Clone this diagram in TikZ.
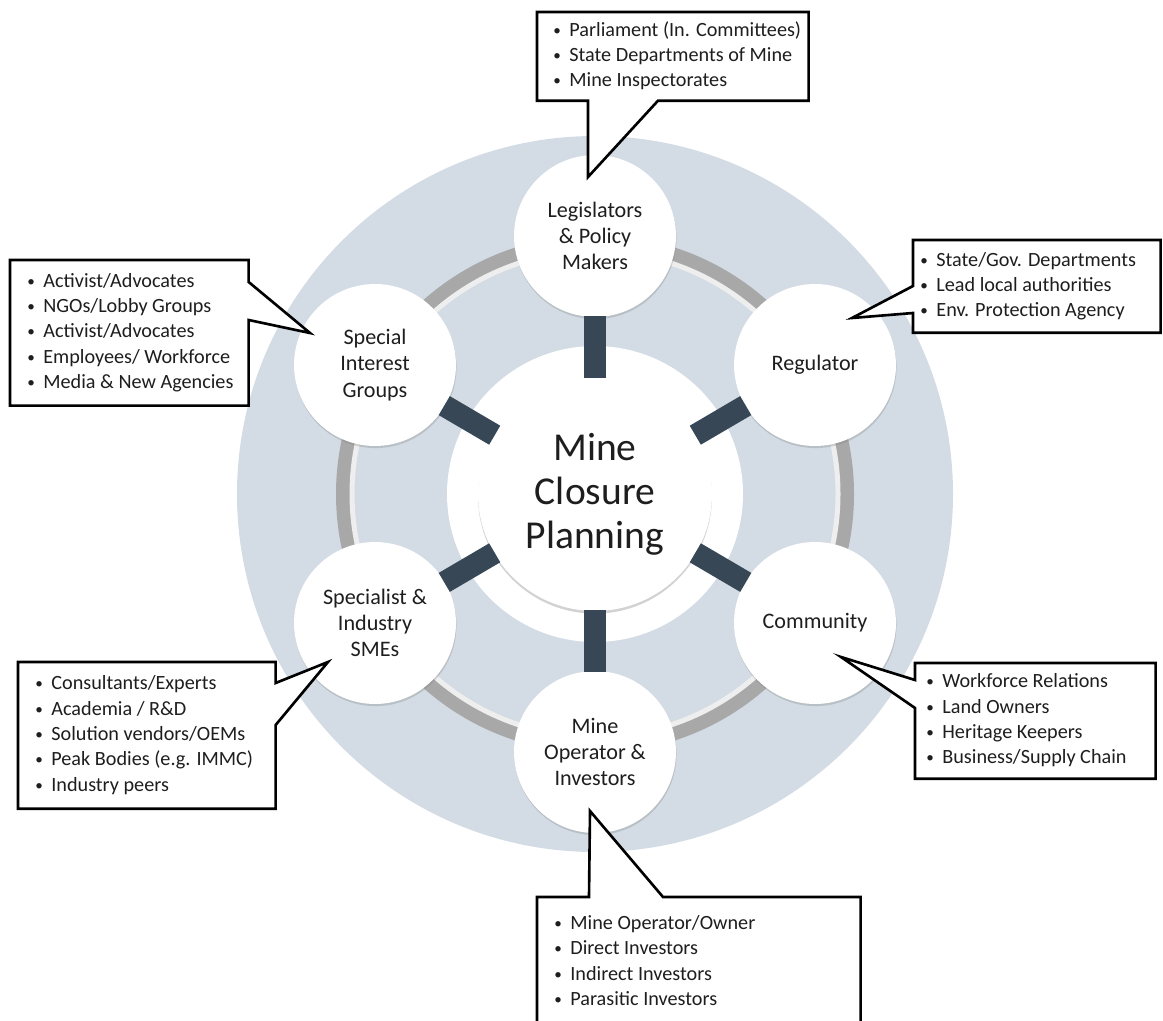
\documentclass[tikz,border=0pt]{standalone}
\usepackage{fontspec}
\usepackage{graphicx}
\setmainfont{Carlito}
\usetikzlibrary{calc, positioning, shadows}
\definecolor{discblue}{RGB}{211,220,228}
\definecolor{spokeslate}{RGB}{55,71,86}
\definecolor{ringgray}{RGB}{168,168,168}
\definecolor{ringshine}{RGB}{238,238,238}
\definecolor{textdark}{RGB}{30,30,30}
\newcommand{\bul}{\raisebox{0.1ex}{\scalebox{0.75}{\textbullet}}\hspace{0.42em}}

\begin{document}
\begin{tikzpicture}[
    x=0.02cm, y=-0.02cm,
    stake/.style={circle, fill=white, minimum size=3.24cm, inner sep=0pt, align=center, text=textdark, font=\fontsize{12.6}{15}\selectfont, drop shadow={opacity=0.3, shadow xshift=0.3pt, shadow yshift=-1.2pt}},
    hub/.style={circle, fill=white, minimum size=4.68cm, inner sep=0pt, align=center, text=textdark, font=\fontsize{22.5}{25}\selectfont, drop shadow={opacity=0.35, shadow xshift=0pt, shadow yshift=-1.5pt}},
    spoke/.style={line width=0.44cm, spokeslate, shorten <=-0.6pt, shorten >=-0.6pt},
    listbox/.style={rectangle, fill=white, anchor=north west, inner sep=0pt},
    listtext/.style={inner sep=0pt, anchor=west, text=textdark, font=\fontsize{11.5}{14.4}\selectfont},
    calloutline/.style={draw=black, line width=1.5pt, line join=miter}
]
    \useasboundingbox (0,0) rectangle (1163,1021);
    \clip (0,0) rectangle (1163,1021);

    % backdrop
    \fill[discblue] (595,494) circle (358);
    \fill[white] (595,494) circle (148);
    \draw[ringgray, line width=0.28cm] (595,494) circle (252);
    \draw[ringshine, line width=0.1cm] (595,494) circle (243);

    % stakeholders
    \node[stake] (legis) at (595,236) {Legislators\\\& Policy\\Makers};
    \node[stake] (reg) at (815,365) {Regulator};
    \node[stake] (comm) at (815,623) {Community};
    \node[stake] (oper) at (595,752) {Mine\\Operator \&\\Investors};
    \node[stake] (sme) at (375,623) {Specialist \&\\Industry\\SMEs};
    \node[stake] (sig) at (375,365) {Special\\Interest\\Groups};

    % centre
    \node[hub] (mcp) at (595,494) {Mine\\Closure\\Planning};

    % spokes
    \draw[spoke] (mcp) -- (legis);
    \draw[spoke] (mcp) -- (reg);
    \draw[spoke] (mcp) -- (comm);
    \draw[spoke] (mcp) -- (oper);
    \draw[spoke] (mcp) -- (sme);
    \draw[spoke] (mcp) -- (sig);

    % legislators callout
    \node[listbox, minimum width=5.42cm, minimum height=1.76cm] (lawbox) at (537,12) {};
    \node[listtext, right=0.32cm of lawbox.west] (lawlist) {\begin{tabular}{@{}l@{}}\bul Parliament (In. Committees)\\\bul State Departments of Mine\\\bul Mine Inspectorates\end{tabular}};
    \coordinate (lawtip) at ($(legis)+(-7,-59)$);
    \fill[white] ($(lawbox.south west)+(51,0)$) -- (lawtip) -- ($(lawbox.south west)+(121,0)$) -- cycle;
    \draw[calloutline] (lawbox.south west) -- (lawbox.north west) -- (lawbox.north east) -- (lawbox.south east) -- ($(lawbox.south west)+(121,0)$) -- (lawtip) -- ($(lawbox.south west)+(51,0)$) -- cycle;

    % regulator callout
    \node[listbox, minimum width=4.94cm, minimum height=1.84cm] (regbox) at (913,240) {};
    \node[listtext, right=0.14cm of regbox.west] (reglist) {\begin{tabular}{@{}l@{}}\bul State/Gov. Departments\\\bul Lead local authorities\\\bul Env. Protection Agency\end{tabular}};
    \coordinate (regtip) at ($(reg)+(37,-47)$);
    \fill[white] ($(regbox.north west)+(0,46)$) -- (regtip) -- ($(regbox.north west)+(0,73)$) -- cycle;
    \draw[calloutline] (regbox.north west) -- (regbox.north east) -- (regbox.south east) -- (regbox.south west) -- ($(regbox.north west)+(0,73)$) -- (regtip) -- ($(regbox.north west)+(0,46)$) -- cycle;

    % special interest callout
    \node[listbox, minimum width=4.76cm, minimum height=2.9cm] (sigbox) at (10,260) {};
    \node[listtext, right=0.34cm of sigbox.west] (siglist) {\begin{tabular}{@{}l@{}}\bul Activist/Advocates\\\bul NGOs/Lobby Groups\\\bul Activist/Advocates\\\bul Employees/ Workforce\\\bul Media \& New Agencies\end{tabular}};
    \coordinate (sigtip) at ($(sig)+(-65,-32)$);
    \fill[white] ($(sigbox.north east)+(0,22)$) -- (sigtip) -- ($(sigbox.north east)+(0,60)$) -- cycle;
    \draw[calloutline] (sigbox.north east) -- ($(sigbox.north east)+(0,22)$) -- (sigtip) -- ($(sigbox.north east)+(0,60)$) -- (sigbox.south east) -- (sigbox.south west) -- (sigbox.north west) -- cycle;

    % specialist callout
    \node[listbox, minimum width=5.14cm, minimum height=2.92cm] (smebox) at (18,662) {};
    \node[listtext, right=0.34cm of smebox.west] (smelist) {\begin{tabular}{@{}l@{}}\bul Consultants/Experts\\\bul Academia / R\&D\\\bul Solution vendors/OEMs\\\bul Peak Bodies (e.g. IMMC)\\\bul Industry peers\end{tabular}};
    \coordinate (smetip) at ($(sme)+(-47,39)$);
    \fill[white] ($(smebox.north east)+(0,21)$) -- (smetip) -- ($(smebox.north east)+(0,63)$) -- cycle;
    \draw[calloutline] (smebox.north east) -- ($(smebox.north east)+(0,21)$) -- (smetip) -- ($(smebox.north east)+(0,63)$) -- (smebox.south east) -- (smebox.south west) -- (smebox.north west) -- cycle;

    % community callout
    \node[listbox, minimum width=4.8cm, minimum height=2.3cm] (combox) at (915,663) {};
    \node[listtext, right=0.22cm of combox.west] (comlist) {\begin{tabular}{@{}l@{}}\bul Workforce Relations\\\bul Land Owners\\\bul Heritage Keepers\\\bul Business/Supply Chain\end{tabular}};
    \coordinate (comtip) at ($(comm)+(26,34)$);
    \fill[white] ($(combox.north west)+(0,17)$) -- (comtip) -- ($(combox.north west)+(0,45)$) -- cycle;
    \draw[calloutline] (combox.north west) -- (combox.north east) -- (combox.south east) -- (combox.south west) -- ($(combox.north west)+(0,45)$) -- (comtip) -- ($(combox.north west)+(0,17)$) -- cycle;

    % operator callout
    \node[listbox, minimum width=6.46cm, minimum height=2.6cm] (opbox) at (537,897) {};
    \node[listtext, right=0.34cm of opbox.west] (oplist) {\begin{tabular}{@{}l@{}}\bul Mine Operator/Owner\\\bul Direct Investors\\\bul Indirect Investors\\\bul Parasitic Investors\end{tabular}};
    \coordinate (optip) at ($(oper)+(-5,59)$);
    \fill[white] ($(opbox.north west)+(52,0)$) -- (optip) -- ($(opbox.north west)+(126,0)$) -- cycle;
    \draw[calloutline] (opbox.north west) -- ($(opbox.north west)+(52,0)$) -- (optip) -- ($(opbox.north west)+(126,0)$) -- (opbox.north east) -- (opbox.south east) -- (opbox.south west) -- cycle;

\end{tikzpicture}
\end{document}
